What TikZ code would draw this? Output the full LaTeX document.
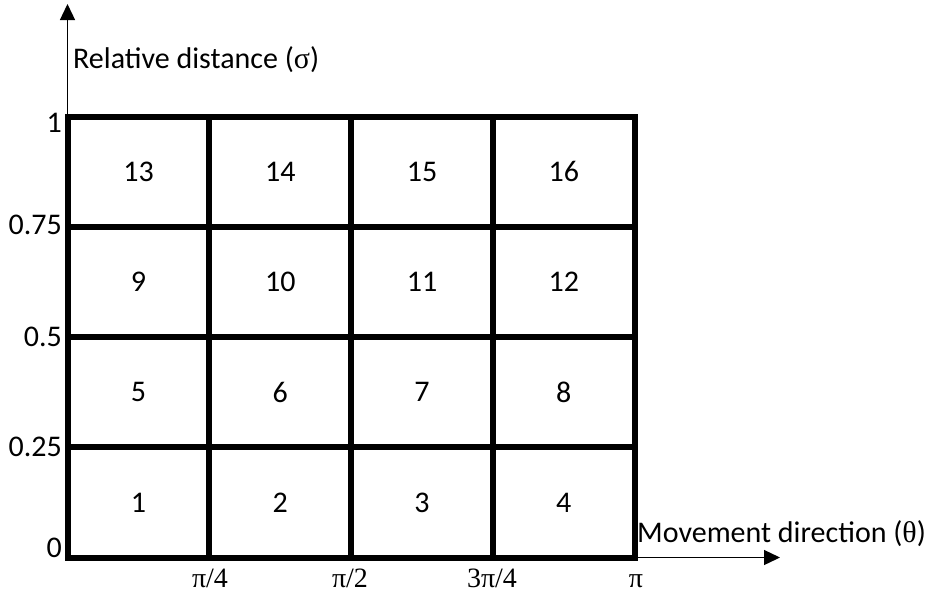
\documentclass[tikz,border=0pt]{standalone}
\usepackage{fontspec}
\setmainfont{Carlito}[Numbers=Lining]
\newfontfamily\gr{Liberation Serif}[Numbers=Lining]
\usetikzlibrary{arrows.meta}
\begin{document}
\begin{tikzpicture}[x=1pt,y=-1pt,
  cell/.style={draw,line width=5.8pt,minimum width=141.75pt,minimum height=110.25pt,inner sep=0pt,font=\fontsize{30}{36}\selectfont},
  ticklbl/.style={anchor=base east,inner sep=0pt,font=\fontsize{30}{36}\selectfont},
  xlbl/.style={anchor=base,inner sep=0pt,font=\fontsize{28}{34}\selectfont\gr},
  axislbl/.style={anchor=base west,inner sep=0pt,font=\fontsize{30}{36}\selectfont},
  axis/.style={line width=1.3pt,-{Triangle[length=16pt,width=15pt]}}]
\useasboundingbox (0,0) rectangle (933,597);
% cells
\foreach \r in {0,1,2,3}{
  \foreach \c in {0,1,2,3}{
    \pgfmathtruncatemacro{\n}{\r*4+\c+1}
    \node[cell] (c\n) at ({138.5+\c*141.75},{502.5-\r*110.25}) {\n};
  }
}
% axes
\coordinate (O) at (67.5,557);
\coordinate (ytip) at (67.5,4);
\coordinate (xend) at (634,557.5);
\coordinate (xtip) at (780,557.5);
\draw[axis] (O) -- (ytip);
\draw[axis] (xend) -- (xtip);
% axis labels
\node[axislbl] (ylab) at (73,68) {Relative distance ({\gr σ})};
\node[axislbl] (xlab) at (637,542) {Movement direction ({\gr θ})};
% y ticks
\node[ticklbl] (t1) at (62,132) {1};
\node[ticklbl] (t075) at (62,234) {0.75};
\node[ticklbl] (t05) at (62,346) {0.5};
\node[ticklbl] (t025) at (62,456) {0.25};
\node[ticklbl] (t0) at (62,557) {0};
% x ticks
\node[xlbl] (p4) at (210,587) {π/4};
\node[xlbl] (p2) at (350,587) {π/2};
\node[xlbl] (p34) at (492,587) {3π/4};
\node[xlbl] (p) at (636,587) {π};
\end{tikzpicture}
\end{document}
